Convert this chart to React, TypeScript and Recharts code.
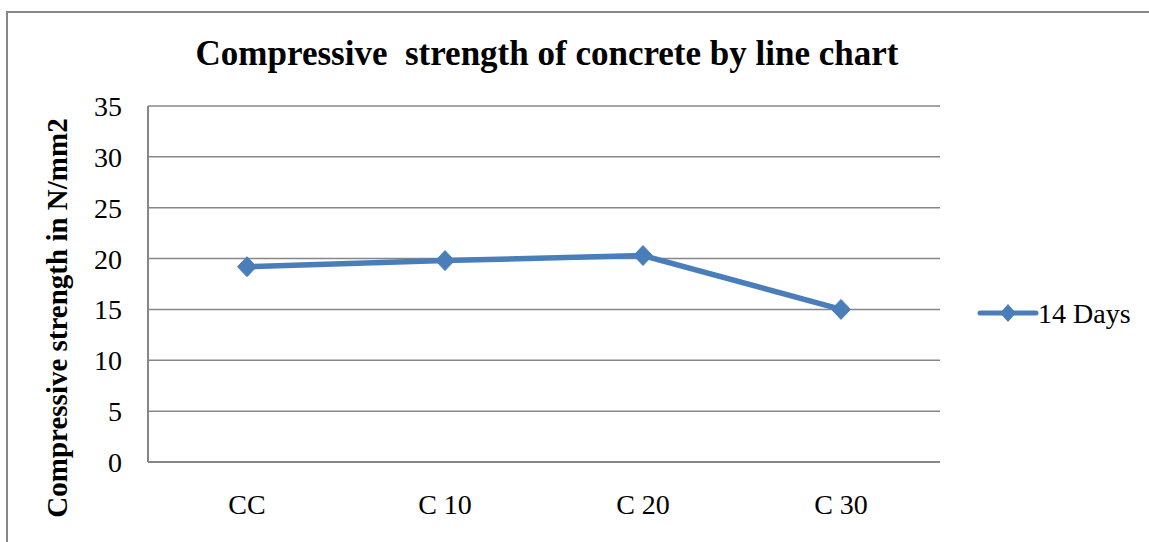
import React from "react";
import { LineChart, Line, XAxis, YAxis, CartesianGrid, Label } from "recharts";

const categories = ["CC", "C 10", "C 20", "C 30"];
const days14 = [19.2, 19.8, 20.3, 15.0];
const yTicks = [0, 5, 10, 15, 20, 25, 30, 35];
const seriesName = "14 Days";
const titleText = "Compressive\u00A0 strength of concrete by line chart";
const yLabelText = "Compressive strength in N/mm2";

const data = categories.map((name, i) => ({ name, days14: days14[i] }));

const FONT = '"Liberation Serif", "Times New Roman", serif';
const BLUE = "#4A7EBB";
const GRID = "#878787";

const Diamond = (props: any) => {
  const { cx, cy } = props;
  if (cx == null || cy == null) return null;
  const w = 9.5;
  const h = 10;
  return (
    <polygon
      points={`${cx},${cy - h} ${cx + w},${cy} ${cx},${cy + h} ${cx - w},${cy}`}
      fill={BLUE}
      stroke={BLUE}
      strokeWidth={1}
    />
  );
};

export default function App() {
  return (
    <div
      style={{
        position: "absolute",
        left: 0,
        top: 0,
        width: 1149,
        height: 542,
        overflow: "hidden",
        background: "#fff",
        fontFamily: FONT,
      }}
    >
      <div
        style={{
          position: "absolute",
          left: 6,
          top: 11,
          width: 1300,
          height: 700,
          borderLeft: `2px solid ${GRID}`,
          borderTop: `2px solid ${GRID}`,
        }}
      />
      <LineChart
        width={1149}
        height={542}
        data={data}
        margin={{ top: 106, right: 209, bottom: 50, left: 0 }}
        style={{ fontFamily: FONT }}
      >
        <CartesianGrid vertical={false} stroke={GRID} strokeWidth={1.5} />
        <XAxis
          dataKey="name"
          height={30}
          padding={{ left: 99, right: 99 }}
          axisLine={{ stroke: GRID, strokeWidth: 2 }}
          tickLine={false}
          tickSize={0}
          tickMargin={32}
          tick={{ fill: "#000", fontSize: 28, fontFamily: FONT }}
          interval={0}
        />
        <YAxis
          width={148}
          domain={[0, 35]}
          ticks={yTicks}
          allowDataOverflow
          axisLine={{ stroke: GRID, strokeWidth: 2 }}
          tickLine={false}
          tickSize={0}
          tickMargin={26}
          tick={{ fill: "#000", fontSize: 28, fontFamily: FONT }}
        >
          <Label
            content={() => (
              <text
                x={67}
                y={318}
                transform="rotate(-90 67 318)"
                textAnchor="middle"
                fontSize={29}
                fontWeight="bold"
                fontFamily={FONT}
                fill="#000"
              >
                {yLabelText}
              </text>
            )}
          />
        </YAxis>
        <Line
          type="linear"
          dataKey="days14"
          name={seriesName}
          stroke={BLUE}
          strokeWidth={5.5}
          dot={<Diamond />}
          activeDot={false}
          isAnimationActive={false}
        />
      </LineChart>
      <svg
        width={1149}
        height={542}
        style={{ position: "absolute", left: 0, top: 0, pointerEvents: "none" }}
      >
        <text
          x={547}
          y={65}
          textAnchor="middle"
          fontSize={35}
          fontWeight="bold"
          fontFamily={FONT}
          fill="#000"
        >
          {titleText}
        </text>
        <g transform="translate(978,298)">
          <line x1={2} x2={58} y1={15} y2={15} stroke={BLUE} strokeWidth={5} strokeLinecap="round" />
          <polygon points="30,6 38,15 30,24 22,15" fill={BLUE} />
          <text x={60} y={25} fontSize={28} fontFamily={FONT} fill="#000">
            {seriesName}
          </text>
        </g>
      </svg>
    </div>
  );
}
